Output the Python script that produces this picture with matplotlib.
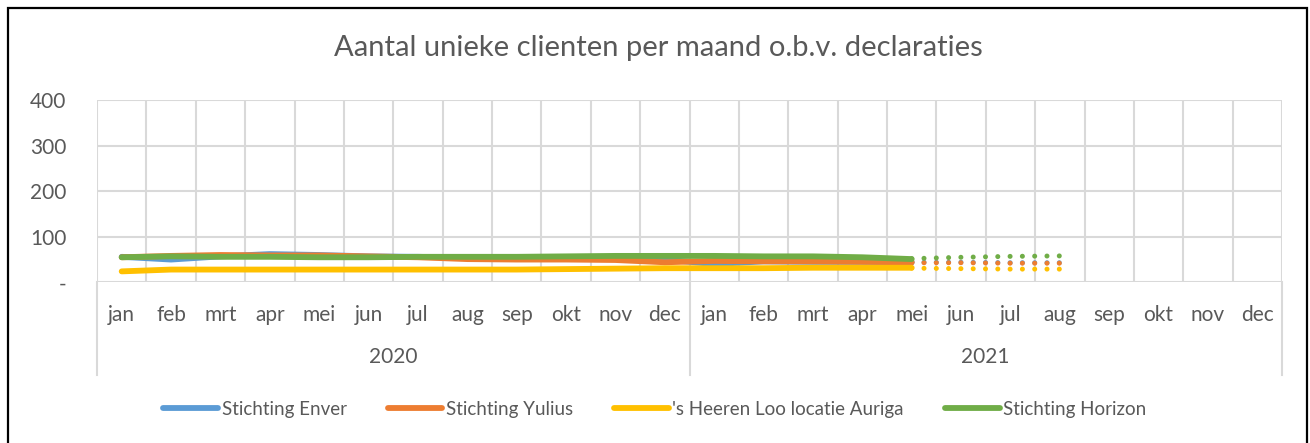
import matplotlib
matplotlib.use('Agg')
import matplotlib.pyplot as plt
import matplotlib.transforms as mtransforms
from matplotlib.patches import Rectangle
import numpy as np

plt.rcParams['font.family'] = ['Lato', 'DejaVu Sans']

# Data
months = ['jan', 'feb', 'mrt', 'apr', 'mei', 'jun', 'jul', 'aug', 'sep', 'okt', 'nov', 'dec']
years = ['2020', '2021']
series_names = ['Stichting Enver', 'Stichting Yulius',
                "'s Heeren Loo locatie Auriga", 'Stichting Horizon']

# jan 2020 .. mei 2021 (17 months)
enver = [56, 50, 57, 62, 60, 57, 56, 54, 55, 54, 54, 50, 40, 46, 45, 45, 44]
yulius = [55, 58, 60, 59, 59, 57, 55, 51, 50, 50, 49, 44, 47, 46, 46, 45, 44]
auriga = [24, 28, 28, 28, 28, 28, 28, 28, 28, 29, 30, 31, 31, 31, 32, 32, 32]
horizon = [55, 57, 56, 56, 55, 55, 56, 56, 56, 57, 58, 58, 58, 57, 57, 55, 51]

# dotted continuation mei 2021 .. aug 2021
enver_fc = [44, 44, 43, 43]
yulius_fc = [43, 43, 42, 42]
auriga_fc = [31, 30, 29, 29]
horizon_fc = [52, 55, 57, 58]

colors = ['#5B9BD5', '#ED7D31', '#FFC000', '#70AD47']
grid_col = '#D9D9D9'
text_col = '#595959'

W, H = 1310, 443
fig = plt.figure(figsize=(W / 100, H / 100), dpi=100)
ax = fig.add_axes([97 / W, 1 - 282.3 / H, (1282 - 97) / W, (282.3 - 100.3) / H])

labels = months * 2
x = np.arange(len(labels))
n = len(enver)
x_fc = np.arange(n - 1, n - 1 + len(enver_fc))

all_series = [enver, yulius, auriga, horizon]
all_fc = [enver_fc, yulius_fc, auriga_fc, horizon_fc]
for vals, fc, col, name in zip(all_series, all_fc, colors, series_names):
    ax.plot(x[:n], vals, color=col, lw=4.2, solid_capstyle='round',
            solid_joinstyle='round', label=name, zorder=3)
    ax.plot(x_fc, fc, color=col, lw=3.6, linestyle=(0, (0.01, 2.45)),
            dash_capstyle='round', zorder=3)

ax.set_xlim(-0.5, len(labels) - 0.5)
ax.set_ylim(0, 400)
ax.set_yticks([0, 100, 200, 300, 400])
ax.set_yticklabels(['-', '100', '200', '300', '400'])
ax.set_xticks(x)
ax.set_xticklabels(labels)
ax.tick_params(axis='both', length=0, labelsize=15, colors=text_col)
ax.tick_params(axis='y', pad=22)
ax.tick_params(axis='x', pad=16)

# gridlines
for yv in [100, 200, 300, 400]:
    ax.axhline(yv, color=grid_col, lw=1.5, zorder=1)
for xv in np.arange(-0.5, len(labels), 1):
    ax.axvline(xv, color=grid_col, lw=1.5, zorder=1)
for s in ax.spines.values():
    s.set_visible(False)
ax.axhline(0, color=grid_col, lw=1.5, zorder=1)

# year group labels and separators below the axis
trans = mtransforms.blended_transform_factory(ax.transData, ax.transAxes)
for xv in [-0.5, 11.5, 23.5]:
    ax.plot([xv, xv], [0, -0.51], color=grid_col, lw=1.5, transform=trans,
            clip_on=False)
for i, yr in enumerate(years):
    ax.text(5.5 + 12 * i, -0.41, yr, transform=trans, ha='center', va='center',
            fontsize=15, color=text_col)

fig.text(658 / W, 1 - 48 / H, 'Aantal unieke clienten per maand o.b.v. declaraties',
         ha='center', va='center', fontsize=21, color=text_col)

fig.legend(loc='center', bbox_to_anchor=(0.5, 1 - 409 / H), ncol=4, frameon=False,
           fontsize=13.5, labelcolor=text_col, handlelength=2.9, handletextpad=0.2,
           columnspacing=2.2)

# outer border
fig.patches.append(Rectangle((8 / W, -0.05), (1307 - 8) / W, 1 - 8 / H + 0.05,
                             transform=fig.transFigure, fill=False,
                             edgecolor='black', lw=1.6))

fig.savefig('out.png', dpi=100)
